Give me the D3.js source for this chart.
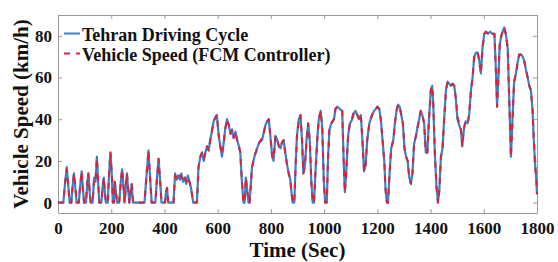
<!DOCTYPE html>
<html>
<head>
<meta charset="utf-8">
<script src="https://cdn.jsdelivr.net/npm/d3@7"></script>
<style>
  html, body { margin: 0; padding: 0; background: #fff; }
  svg { display: block; }
  text { font-family: "Liberation Serif", "Times New Roman", serif; font-weight: bold; fill: #111; }
</style>
</head>
<body>
<svg id="chart" width="558" height="262"></svg>
<script>
// ---------------- data ----------------
const seriesNames = ["Tehran Driving Cycle", "Vehicle Speed (FCM Controller)"];
const xTicks = [0, 200, 400, 600, 800, 1000, 1200, 1400, 1600, 1800];
const yTicks = [0, 20, 40, 60, 80];

const time = [
  0, 20, 27, 33, 38, 44, 50, 55, 60, 66, 70, 78, 84, 89, 94, 98, 105, 110, 114, 119,
  123, 130, 136, 141, 146, 151, 155, 163, 168, 172, 176, 180, 187, 192, 197, 202, 206, 210, 213, 217,
  222, 230, 236, 241, 246, 250, 254, 259, 264, 268, 272, 277, 282, 325, 332, 340, 346, 352, 366, 372,
  378, 384, 389, 402, 406, 410, 414, 434, 440, 446, 452, 458, 464, 470, 476, 482, 488, 494, 500, 508,
  522, 528, 535, 541, 548, 554, 560, 566, 572, 578, 585, 592, 597, 604, 610, 616, 622, 628, 635, 642,
  648, 654, 660, 667, 673, 680, 685, 691, 697, 701, 706, 711, 716, 720, 729, 738, 748, 757, 767, 774,
  779, 786, 792, 798, 805, 810, 817, 824, 830, 836, 842, 848, 854, 861, 867, 873, 878, 882, 888, 893,
  898, 905, 911, 917, 922, 928, 934, 940, 946, 952, 957, 962, 968, 975, 980, 987, 993, 999, 1004, 1010,
  1015, 1020, 1027, 1037, 1043, 1050, 1058, 1068, 1074, 1078, 1083, 1090, 1097, 1106, 1112, 1118, 1125, 1131, 1138, 1144,
  1150, 1156, 1162, 1170, 1180, 1188, 1195, 1200, 1207, 1213, 1219, 1226, 1231, 1236, 1240, 1246, 1252, 1260, 1266, 1272,
  1278, 1284, 1290, 1296, 1302, 1308, 1314, 1320, 1326, 1332, 1338, 1345, 1351, 1357, 1363, 1369, 1376, 1382, 1388, 1394,
  1401, 1406, 1410, 1416, 1422, 1428, 1433, 1439, 1445, 1452, 1458, 1464, 1470, 1476, 1483, 1489, 1495, 1501, 1508, 1514,
  1519, 1526, 1532, 1539, 1545, 1552, 1558, 1564, 1571, 1577, 1583, 1589, 1595, 1602, 1608, 1616, 1624, 1632, 1640, 1646,
  1650, 1655, 1660, 1666, 1671, 1677, 1684, 1690, 1696, 1702, 1708, 1714, 1721, 1727, 1733, 1740, 1746, 1752, 1758, 1765,
  1771, 1777, 1783, 1788, 1793, 1797, 1800
];

const tehranSpeed = [
  0, 0, 10, 17, 9, 0, 0, 8, 14, 6, 0, 0, 9, 15, 6, 0, 0, 9, 14, 5,
  0, 0, 12, 10, 22, 10, 0, 0, 8, 12, 5, 0, 0, 14, 24, 14, 0, 0, 10, 6,
  0, 0, 10, 16, 8, 0, 6, 14, 6, 0, 4, 9, 0, 0, 12, 25, 12, 0, 0, 12,
  21, 10, 0, 0, 5, 7, 0, 0, 14, 11, 13, 11, 14, 10, 12, 9, 13, 10, 7, 0,
  0, 17, 22, 24, 20, 24, 27, 25, 30, 34, 39, 41, 42, 32, 27, 22, 28, 35, 40, 37,
  33, 35, 31, 34, 30, 27, 24, 10, 0, 0, 12, 6, 0, 0, 17, 22, 26, 29, 30, 34,
  37, 39, 40, 32, 22, 20, 32, 30, 27, 26, 29, 30, 24, 18, 14, 11, 4, 0, 0, 18,
  32, 40, 42, 30, 14, 18, 30, 38, 30, 10, 0, 0, 16, 32, 40, 44, 36, 10, 0, 0,
  22, 35, 38, 40, 45, 46, 45, 44, 18, 5, 14, 32, 38, 40, 43, 44, 42, 40, 42, 30,
  15, 18, 30, 38, 42, 44, 45, 46, 45, 40, 31, 20, 6, 0, 0, 14, 26, 30, 38, 44,
  47, 46, 42, 38, 26, 22, 20, 12, 9, 14, 28, 32, 36, 40, 44, 42, 38, 24, 24, 40,
  54, 56, 48, 24, 8, 0, 6, 22, 26, 42, 54, 58, 57, 56, 57, 56, 50, 40, 37, 35,
  27, 36, 39, 38, 42, 54, 60, 70, 72, 72, 68, 62, 74, 81, 82, 81, 82, 81, 81, 62,
  46, 60, 76, 80, 82, 84, 80, 74, 48, 22, 40, 58, 62, 67, 71, 71, 70, 68, 64, 60,
  56, 54, 45, 30, 18, 12, 4
];

const fcmSpeed = [
  0, 0, 10, 16, 9, 0, 0, 8, 14, 6, 0, 0, 9, 15, 6, 0, 0, 9, 14, 5,
  0, 0, 12, 11, 21, 10, 0, 0, 8, 12, 5, 0, 0, 14, 24, 14, 0, 0, 10, 6,
  0, 0, 10, 16, 8, 0, 6, 14, 6, 0, 4, 9, 0, 0, 12, 25, 12, 0, 0, 12,
  21, 10, 0, 0, 5, 7, 0, 0, 13, 12, 14, 13, 12, 11, 13, 10, 12, 10, 7, 0,
  0, 17, 22, 24, 21, 24, 27, 25, 30, 34, 39, 41, 42, 32, 27, 23, 28, 35, 40, 37,
  33, 35, 31, 34, 30, 27, 24, 10, 0, 0, 12, 6, 0, 0, 17, 22, 26, 29, 31, 34,
  37, 39, 40, 32, 22, 21, 32, 30, 27, 26, 29, 30, 24, 18, 14, 11, 4, 0, 0, 18,
  32, 40, 42, 30, 14, 18, 30, 38, 30, 10, 0, 0, 16, 32, 40, 44, 36, 10, 0, 0,
  22, 35, 38, 40, 45, 46, 45, 44, 18, 5, 14, 32, 38, 41, 44, 43, 42, 40, 42, 30,
  15, 18, 30, 38, 42, 44, 45, 46, 45, 40, 31, 20, 6, 0, 0, 14, 26, 30, 38, 44,
  47, 46, 42, 38, 26, 22, 20, 12, 9, 14, 28, 32, 36, 40, 44, 42, 38, 24, 24, 40,
  54, 56, 48, 24, 8, 0, 6, 22, 26, 42, 54, 58, 57, 56, 57, 56, 50, 41, 38, 35,
  27, 36, 39, 38, 42, 54, 60, 70, 72, 72, 68, 62, 74, 81, 82, 81, 82, 81, 81, 62,
  46, 60, 76, 80, 82, 84, 80, 74, 48, 22, 40, 58, 62, 67, 71, 71, 70, 68, 64, 60,
  56, 54, 45, 30, 18, 12, 4
];

// ---------------- layout ----------------
const W = 558, H = 262;
const margin = { left: 58, right: 21, top: 15, bottom: 49 };
const svg = d3.select("#chart");
svg.append("rect").attr("width", W).attr("height", H).attr("fill", "#fff");

const x = d3.scaleLinear().domain([0, 1800]).range([margin.left, W - margin.right]);
const y = d3.scaleLinear().domain([-5, 90]).range([H - margin.bottom, margin.top]);

const axisColor = "#9a9a9a";
const tickFont = "17px";
const fmt = d3.format("d");

// bottom axis
const gx = svg.append("g").attr("transform", `translate(0,${H - margin.bottom})`)
  .call(d3.axisBottom(x).tickValues(xTicks).tickFormat(fmt).tickSizeInner(-4).tickSizeOuter(0).tickPadding(9));
// top axis
const gxt = svg.append("g").attr("transform", `translate(0,${margin.top})`)
  .call(d3.axisTop(x).tickValues(xTicks).tickSizeInner(-4).tickSizeOuter(0).tickFormat(""));
// left axis
const gy = svg.append("g").attr("transform", `translate(${margin.left},0)`)
  .call(d3.axisLeft(y).tickValues(yTicks).tickFormat(fmt).tickSizeInner(-4).tickSizeOuter(0).tickPadding(6));
// right axis
const gyr = svg.append("g").attr("transform", `translate(${W - margin.right},0)`)
  .call(d3.axisRight(y).tickValues(yTicks).tickSizeInner(-4).tickSizeOuter(0).tickFormat(""));

[gx, gxt, gy, gyr].forEach(g => {
  g.select(".domain").attr("stroke", axisColor).attr("stroke-width", 1);
  g.selectAll(".tick line").attr("stroke", axisColor);
  g.selectAll(".tick text").attr("font-family", "Liberation Serif, serif")
    .attr("font-weight", "bold").attr("font-size", tickFont).attr("fill", "#111");
});

// lines
const tehranData = time.map((t, i) => ({ t, v: tehranSpeed[i] }));
const fcmData = time.map((t, i) => ({ t, v: fcmSpeed[i] }));
const line = d3.line().x(d => x(d.t)).y(d => y(d.v));

const blue = "#3d80c6", red = "#d6243e";

svg.append("path").datum(tehranData).attr("d", line)
  .attr("fill", "none").attr("stroke", blue).attr("stroke-width", 2.2)
  .attr("stroke-linejoin", "round");
svg.append("path").datum(fcmData).attr("d", line)
  .attr("fill", "none").attr("stroke", red).attr("stroke-width", 2)
  .attr("stroke-dasharray", "6,6").attr("stroke-linejoin", "round");

// legend
const legend = svg.append("g");
const legendItems = [
  { name: seriesNames[0], color: blue, dash: null, ly: 33.5, ty: 40.5 },
  { name: seriesNames[1], color: red, dash: "6,6", ly: 53.5, ty: 61 }
];
legendItems.forEach(it => {
  legend.append("line").attr("x1", 64).attr("x2", 80).attr("y1", it.ly).attr("y2", it.ly)
    .attr("stroke", it.color).attr("stroke-width", 2)
    .attr("stroke-dasharray", it.dash);
  legend.append("text").attr("x", 82).attr("y", it.ty)
    .attr("font-size", "18px").text(it.name);
});

// axis titles
svg.append("text").attr("x", (margin.left + W - margin.right) / 2).attr("y", 257)
  .attr("text-anchor", "middle").attr("font-size", "21px").text("Time (Sec)");
svg.append("text")
  .attr("transform", `translate(28,${(margin.top + H - margin.bottom) / 2}) rotate(-90)`)
  .attr("text-anchor", "middle").attr("font-size", "21px").text("Vehicle Speed (km/h)");
</script>
</body>
</html>
